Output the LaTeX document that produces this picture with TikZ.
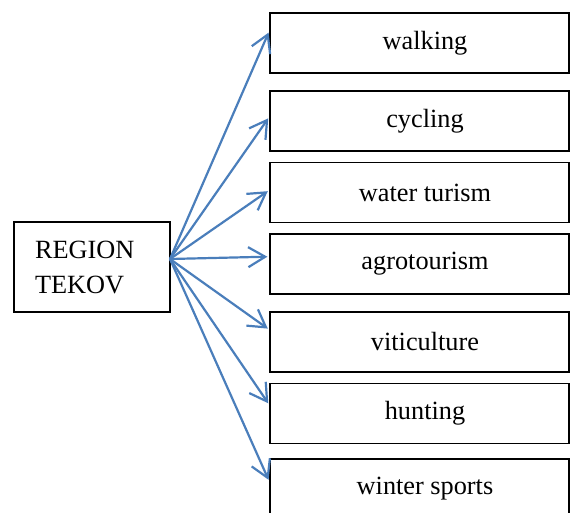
\documentclass[tikz,border=0pt]{standalone}
\usepackage{fontspec}
\setmainfont{Liberation Serif}
\usetikzlibrary{arrows.meta, calc}
\definecolor{arrowblue}{HTML}{4A7EBB}

\begin{document}
\begin{tikzpicture}[
  x=1pt, y=-1pt,
  every node/.style={font=\fontsize{26.3}{35}\selectfont},
  region/.style={rectangle, draw, line width=1.2pt, minimum width=156pt, minimum height=90pt, text width=114pt, inner xsep=21pt, align=left},
  activity/.style={rectangle, draw, line width=1.2pt, minimum width=299pt, minimum height=60pt, inner sep=0pt, execute at begin node=\hspace*{11pt}},
  arrow/.style={-{Straight Barb[length=17pt, width=20pt]}, line width=2.2pt, color=arrowblue, shorten >=2pt}
]
  \useasboundingbox (0,0) rectangle (570,513);

  \node[region] (tekov) at (92,267) {REGION\\TEKOV};
  \coordinate (hub) at (170,259);

  \node[activity] (walking) at (419.5,43) {walking};
  \node[activity] (cycling) at (419.5,121) {cycling};
  \node[activity] (water) at (419.5,192.5) {water turism};
  \node[activity] (agro) at (419.5,264) {agrotourism};
  \node[activity] (viti) at (419.5,342) {viticulture};
  \node[activity] (hunting) at (419.5,413.5) {hunting};
  \node[activity] (winter) at (419.5,489) {winter sports};

  \draw[arrow] (hub) -- ($(walking.north west)!0.3!(walking.south west)$);
  \draw[arrow] (hub) -- ($(cycling.north west)!0.43!(cycling.south west)$);
  \draw[arrow] (hub) -- ($(water.north west)!0.46!(water.south west)$);
  \draw[arrow] (hub) -- ($(agro.north west)!0.38!(agro.south west)$);
  \draw[arrow] (hub) -- ($(viti.north west)!0.3!(viti.south west)$);
  \draw[arrow] (hub) -- ($(hunting.north west)!0.36!(hunting.south west)$);
  \draw[arrow] (hub) -- ($(winter.north west)!0.38!(winter.south west)$);
\end{tikzpicture}
\end{document}
